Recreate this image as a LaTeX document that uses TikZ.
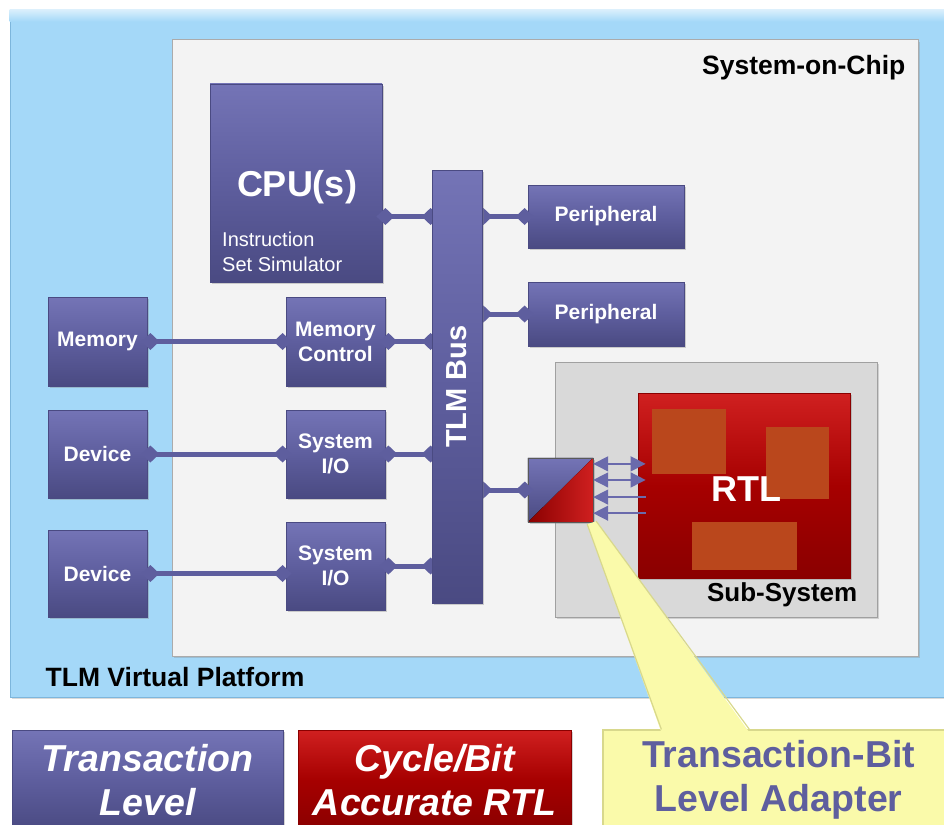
\documentclass[tikz,border=0pt]{standalone}
\usepackage{fontspec}
\setmainfont{Liberation Sans}
\usetikzlibrary{arrows.meta,shadows,calc}

\definecolor{tlm}{HTML}{5E5E9E}
\definecolor{tlmlight}{HTML}{7474B6}
\definecolor{tlmdark}{HTML}{4A4A82}
\definecolor{rtlred}{HTML}{A60000}
\definecolor{rtllight}{HTML}{D02020}
\definecolor{rtldark}{HTML}{8A0000}
\definecolor{blk}{HTML}{BA471C}
\definecolor{skyfill}{HTML}{A4D8F8}
\definecolor{skyedge}{HTML}{7DB6DC}
\definecolor{socfill}{HTML}{F3F3F3}
\definecolor{socedge}{HTML}{ABABAB}
\definecolor{subfill}{HTML}{D9D9D9}
\definecolor{subedge}{HTML}{A0A0A0}
\definecolor{notefill}{HTML}{FAFAAA}
\definecolor{noteedge}{HTML}{D8D88C}
\definecolor{sigc}{HTML}{6A6AAC}

\pgfdeclarelayer{fg}
\pgfsetlayers{main,fg}

\tikzset{
  panel/.style={rectangle, inner sep=0pt},
  tlmbox/.style={rectangle, draw=tlmdark, line width=0.8pt, inner sep=0pt,
    top color=tlmlight, bottom color=tlmdark, middle color=tlm,
    drop shadow={shadow xshift=2pt, shadow yshift=-2pt, opacity=0.35},
    text=white, align=center, font=\bfseries\fontsize{21}{25}\selectfont},
  rtlbox/.style={rectangle, draw=rtldark, line width=0.8pt, inner sep=0pt,
    top color=rtllight, bottom color=rtldark, middle color=rtlred,
    drop shadow={shadow xshift=2pt, shadow yshift=-2pt, opacity=0.35}},
  conn/.style={draw=tlm, line width=5pt,
    {Diamond[length=18pt,width=17pt]}-{Diamond[length=18pt,width=17pt]},
    shorten <=-6pt, shorten >=-8pt},
  sig/.style={draw=sigc, line width=1.4pt},
  sigtip/.tip={Triangle[length=15pt,width=15pt]},
  tag/.style={font=\bfseries\fontsize{26.5}{30}\selectfont, text=black, inner sep=0pt},
  legend/.style={font=\bfseries\itshape\fontsize{37.5}{44}\selectfont, text=white, align=center, inner sep=0pt},
  glow/.style={text=white},
}

\begin{document}
\begin{tikzpicture}[x=1pt,y=-1pt]
\useasboundingbox (0,0) rectangle (944,824);
\clip (0,0) rectangle (944,824);

% outer platform panel
\node[panel, fill=skyfill, draw=skyedge, line width=1pt, minimum width=946pt, minimum height=687pt,
  drop shadow={shadow xshift=2pt, shadow yshift=-2pt, opacity=0.3}] (vp) at (483,353.5) {};
\shade[top color=white!60!skyfill, bottom color=skyfill] (vp.north west) rectangle ($(vp.north east)+(0,12)$);
\node[tag, anchor=west] at ($(vp.south west)+(36,-20)$) {TLM Virtual Platform};

% system-on-chip panel
\node[panel, fill=socfill, draw=socedge, line width=1pt, minimum width=746pt, minimum height=616pt,
  drop shadow={shadow xshift=2pt, shadow yshift=-2pt, opacity=0.3}] (soc) at (545,348) {};
\node[tag, anchor=east] at ($(soc.north east)+(-13,28)$) {System-on-Chip};

% sub-system panel
\node[panel, fill=subfill, draw=subedge, line width=1pt, minimum width=322pt, minimum height=255pt,
  drop shadow={shadow xshift=2pt, shadow yshift=-2pt, opacity=0.3}] (sub) at (716,489.5) {};
\node[tag, font=\bfseries\fontsize{26}{30}\selectfont, anchor=east] at ($(sub.south east)+(-20,-23)$) {Sub-System};

% RTL block
\node[rtlbox, minimum width=212pt, minimum height=185pt] (rtl) at (744,485.5) {};
\fill[blk] (652,409) rectangle (726,474);
\fill[blk] (766,427) rectangle (829,499);
\fill[blk] (692,522) rectangle (797,570);
\node[glow, font=\bfseries\fontsize{36}{40}\selectfont] at (746,489) {RTL};

% processor
\node[tlmbox, minimum width=172pt, minimum height=198pt] (cpu) at (296,183) {};
\node[glow, font=\bfseries\fontsize{36}{40}\selectfont] at (297,187) {CPU(s)};
\node[glow, anchor=west, align=left, inner sep=0pt, font=\fontsize{20}{25}\selectfont]
  at (222,252) {Instruction\\Set Simulator};

% peripherals and I/O blocks
\node[tlmbox, minimum width=156pt, minimum height=63pt] (per1) at (606,216.5) {Peripheral};
\node[tlmbox, minimum width=156pt, minimum height=64pt] (per2) at (606,314) {Peripheral};
\node[tlmbox, minimum width=99pt, minimum height=89pt] (mem) at (97.5,341.5) {Memory};
\node[tlmbox, minimum width=99pt, minimum height=89pt] (memctl) at (335.5,341.5) {Memory\\Control};
\node[tlmbox, minimum width=99pt, minimum height=88pt] (dev1) at (97.5,454) {Device};
\node[tlmbox, minimum width=99pt, minimum height=88pt] (sio1) at (335.5,454) {System\\I/O};
\node[tlmbox, minimum width=99pt, minimum height=87pt] (dev2) at (97.5,573.5) {Device};
\node[tlmbox, minimum width=99pt, minimum height=88pt] (sio2) at (335.5,566) {System\\I/O};

% TLM bus, kept above the links
\begin{pgfonlayer}{fg}
\node[tlmbox, minimum width=50pt, minimum height=433pt] (bus) at (457,386.5) {};
\node[glow, rotate=90, font=\bfseries\fontsize{29}{32}\selectfont] at (bus.center) {TLM Bus};
\end{pgfonlayer}

% adapter: split square
\node[rectangle, minimum width=65pt, minimum height=64pt, inner sep=0pt,
  drop shadow={shadow xshift=2pt, shadow yshift=-2pt, opacity=0.35}, fill=tlm] (adapter) at (560.5,490) {};
\fill[top color=tlmlight, bottom color=tlmdark] (adapter.north west) -- (adapter.north east) -- (adapter.south west) -- cycle;
\fill[left color=rtldark, right color=rtllight] (adapter.north east) -- (adapter.south east) -- (adapter.south west) -- cycle;
\draw[gray!70!black, line width=0.6pt] (adapter.north west) rectangle (adapter.south east);

% TLM links
\draw[conn] (cpu.east |- per1.west) -- (bus.west |- per1.west);
\draw[conn, shorten <=-8pt, shorten >=-6pt] (bus.east |- per1.west) -- (per1.west);
\draw[conn, shorten <=-8pt, shorten >=-6pt] (bus.east |- per2.west) -- (per2.west);
\draw[conn, shorten >=-6pt] (mem.east) -- (memctl.west);
\draw[conn] (memctl.east) -- (bus.west |- memctl.east);
\draw[conn, shorten >=-6pt] (dev1.east) -- (sio1.west);
\draw[conn] (sio1.east) -- (bus.west |- sio1.east);
\draw[conn, shorten >=-6pt] (dev2.east) -- (sio2.west |- dev2.east);
\draw[conn] (sio2.east) -- (bus.west |- sio2.east);
\draw[conn, shorten <=-8pt, shorten >=-6pt] (bus.east |- adapter.west) -- (adapter.west);

% pin-level signals between adapter and RTL
\coordinate (s1) at ($(adapter.north east)!0.094!(adapter.south east)$);
\coordinate (s2) at ($(adapter.north east)!0.344!(adapter.south east)$);
\coordinate (s3) at ($(adapter.north east)!0.61!(adapter.south east)$);
\coordinate (s4) at ($(adapter.north east)!0.86!(adapter.south east)$);
\draw[sig, {sigtip}-{sigtip}, shorten >=-8pt] (s1) -- (s1 -| rtl.west);
\draw[sig, {sigtip}-{sigtip}, shorten >=-8pt] (s2) -- (s2 -| rtl.west);
\draw[sig, {sigtip}-, shorten >=-8pt] (s3) -- (s3 -| rtl.west);
\draw[sig, {sigtip}-, shorten >=-8pt] (s4) -- (s4 -| rtl.west);

% legend boxes
\node[tlmbox, minimum width=271pt, minimum height=100pt] (tl) at (147.5,780) {};
\node[legend] at (tl.center) {Transaction\\Level};
\node[rtlbox, minimum width=273pt, minimum height=100pt] (cb) at (434.5,780) {};
\node[legend] at (cb.center) {Cycle/Bit\\Accurate RTL};
\node[rectangle, fill=notefill, draw=noteedge, line width=1.2pt, minimum width=347pt, minimum height=100pt,
  inner sep=0pt] (ad) at (776.5,780) {};
\node[legend, font=\bfseries\fontsize{37.5}{44}\selectfont, text=tlm] at ($(ad.center)+(2,0)$) {Transaction-Bit\\Level Adapter};

% callout wedge from the adapter to its legend box
\coordinate (wl) at ($(adapter.south east)+(-6,2)$);
\coordinate (wr) at ($(adapter.south east)+(3,-1)$);
\coordinate (bl) at ($(ad.north west)+(59,0)$);
\coordinate (br) at ($(ad.north west)+(147,0)$);
\fill[notefill] (wl) -- ($(bl)+(0,3)$) -- ($(br)+(0,3)$) -- (wr) -- cycle;
\draw[noteedge, line width=1.2pt] (wl) -- (bl);
\draw[noteedge, line width=1.2pt] (wr) -- (br);
\end{tikzpicture}
\end{document}
